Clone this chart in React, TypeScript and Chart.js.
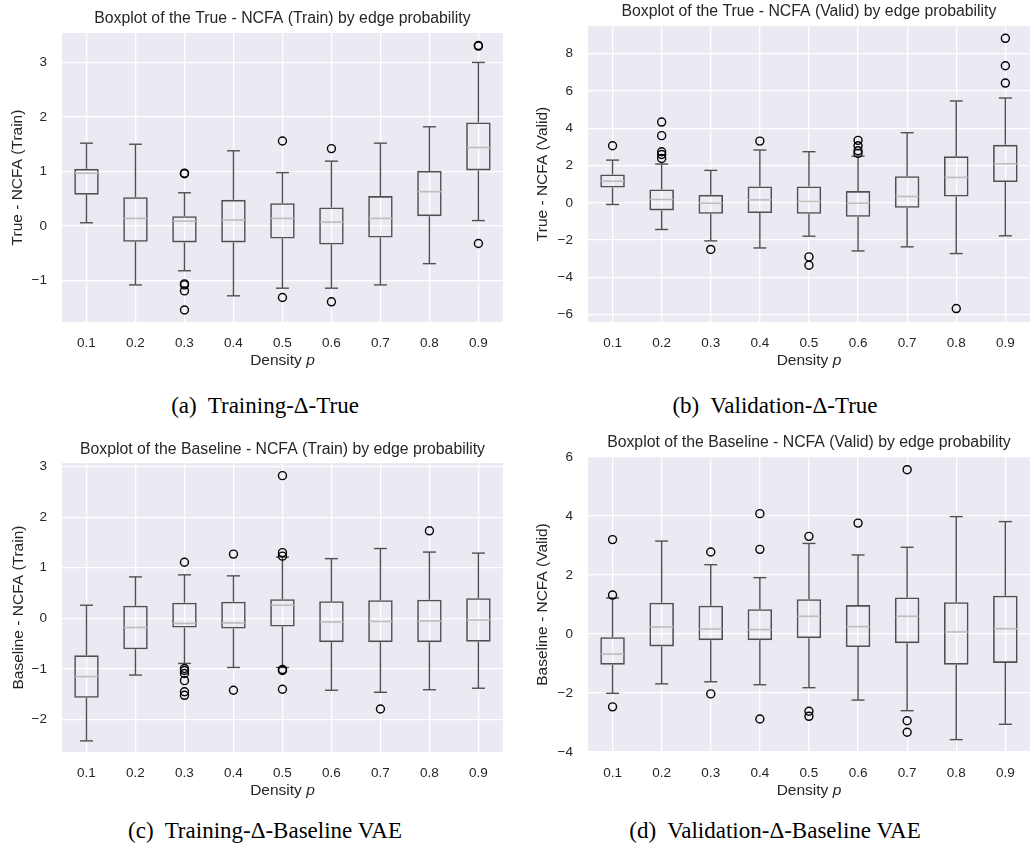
import React, { useEffect, useRef } from "react";
import { Chart, registerables } from "chart.js";

Chart.register(...registerables);

// ---------- data ----------
const categories = ["0.1", "0.2", "0.3", "0.4", "0.5", "0.6", "0.7", "0.8", "0.9"];

// (a) True - NCFA (Train)
const aLow = [0.06, -1.08, -0.82, -1.28, -1.14, -1.14, -1.08, -0.69, 0.1];
const aQ1 = [0.575, -0.29, -0.3, -0.3, -0.23, -0.34, -0.21, 0.18, 1.02];
const aMed = [0.97, 0.14, 0.09, 0.11, 0.14, 0.07, 0.14, 0.63, 1.44];
const aQ3 = [1.05, 0.53, 0.18, 0.48, 0.42, 0.34, 0.55, 1.01, 1.9];
const aHigh = [1.52, 1.5, 0.61, 1.38, 0.98, 1.19, 1.52, 1.82, 3.0];
const aOutCat = [3, 3, 3, 3, 3, 3, 5, 5, 6, 6, 9, 9, 9];
const aOutVal = [0.97, 0.96, -1.06, -1.08, -1.19, -1.54, 1.56, -1.31, 1.42, -1.39, 3.31, 3.3, -0.32];
const aTicks = [-1, 0, 1, 2, 3];

// (b) True - NCFA (Valid)
const bLow = [-0.09, -1.43, -2.04, -2.42, -1.79, -2.58, -2.36, -2.72, -1.77];
const bQ1 = [0.82, -0.41, -0.59, -0.55, -0.59, -0.75, -0.27, 0.34, 1.11];
const bMed = [1.16, 0.18, -0.02, 0.16, 0.07, -0.02, 0.34, 1.36, 2.09];
const bQ3 = [1.52, 0.72, 0.43, 0.88, 0.88, 0.63, 1.43, 2.49, 3.11];
const bHigh = [2.29, 2.08, 1.74, 2.83, 2.74, 2.5, 3.76, 5.46, 5.62];
const bOutCat = [1, 2, 2, 2, 2, 2, 3, 4, 5, 5, 6, 6, 6, 6, 8, 9, 9, 9];
const bOutVal = [3.06, 4.33, 3.6, 2.74, 2.59, 2.38, -2.5, 3.31, -2.9, -3.35, 3.35, 3.06, 2.79, 2.65, -5.67, 8.82, 7.35, 6.42];
const bTicks = [-6, -4, -2, 0, 2, 4, 6, 8];

// (c) Baseline - NCFA (Train)
const cLow = [-2.42, -1.12, -0.89, -0.97, -0.97, -1.42, -1.46, -1.41, -1.38];
const cQ1 = [-1.57, -0.61, -0.18, -0.2, -0.16, -0.47, -0.47, -0.47, -0.46];
const cMed = [-1.15, -0.18, -0.1, -0.09, 0.26, -0.07, -0.06, -0.05, -0.03];
const cQ3 = [-0.73, 0.25, 0.31, 0.33, 0.38, 0.34, 0.36, 0.37, 0.4];
const cHigh = [0.26, 0.82, 0.86, 0.84, 1.21, 1.18, 1.38, 1.31, 1.29];
const cOutCat = [3, 3, 3, 3, 3, 3, 3, 4, 4, 5, 5, 5, 5, 5, 5, 7, 8];
const cOutVal = [1.11, -0.99, -1.03, -1.09, -1.23, -1.45, -1.52, 1.27, -1.42, 2.82, 1.3, 1.23, -1.01, -1.03, -1.4, -1.79, 1.73];
const cTicks = [-2, -1, 0, 1, 2, 3];

// (d) Baseline - NCFA (Valid)
const dLow = [-2.01, -1.69, -1.62, -1.72, -1.82, -2.24, -2.6, -3.58, -3.06];
const dQ1 = [-1.04, -0.42, -0.21, -0.21, -0.14, -0.44, -0.31, -1.04, -0.98];
const dMed = [-0.68, 0.24, 0.17, 0.15, 0.6, 0.25, 0.6, 0.07, 0.18];
const dQ3 = [-0.11, 1.06, 0.96, 0.84, 1.18, 0.98, 1.24, 1.08, 1.3];
const dHigh = [1.22, 3.15, 2.35, 1.91, 3.07, 2.68, 2.94, 3.98, 3.81];
const dOutCat = [1, 1, 1, 3, 3, 4, 4, 4, 5, 5, 5, 6, 7, 7, 7];
const dOutVal = [3.2, 1.32, -2.47, 2.78, -2.03, 4.08, 2.87, -2.88, 3.31, -2.62, -2.79, 3.76, 5.57, -2.94, -3.33];
const dTicks = [-4, -2, 0, 2, 4, 6];

// ---------- styling ----------
const SANS = '"Liberation Sans", Arial, Helvetica, sans-serif';
const SERIF = '"Liberation Serif", "Times New Roman", Times, serif';
const TEXT = "#262626";
const BG = "#EAEAF2";
const BOX = "#505050";
const MEDIAN = "#BDBDBD";
const TITLE_SIZE = 15.8;
const LABEL_SIZE = 15.5;
const TICK_SIZE = 13.5;

Chart.defaults.font.family = SANS;

type Panel = {
  title: string;
  yTitle: string;
  low: number[];
  q1: number[];
  med: number[];
  q3: number[];
  high: number[];
  outCat: number[];
  outVal: number[];
  ticks: number[];
  yMin: number;
  yMax: number;
  left: number;
  top: number;
  width: number;
  height: number;
  areaLeft: number;
  areaTop: number;
  areaRight: number;
  areaBottom: number;
  titleCenter: number;
  yTitleCenter: number;
  caption: string;
  captionX: number;
  captionY: number;
};

const panels: Panel[] = [
  {
    title: "Boxplot of the True - NCFA (Train) by edge probability",
    yTitle: "True - NCFA (Train)",
    low: aLow, q1: aQ1, med: aMed, q3: aQ3, high: aHigh, outCat: aOutCat, outVal: aOutVal,
    ticks: aTicks, yMin: -1.76, yMax: 3.54,
    left: 0, top: 0, width: 516, height: 380,
    areaLeft: 62, areaTop: 33, areaRight: 509, areaBottom: 322,
    titleCenter: 18.5, yTitleCenter: 18,
    caption: "(a)  Training-\u0394-True", captionX: 265, captionY: 406,
  },
  {
    title: "Boxplot of the True - NCFA (Valid) by edge probability",
    yTitle: "True - NCFA (Valid)",
    low: bLow, q1: bQ1, med: bMed, q3: bQ3, high: bHigh, outCat: bOutCat, outVal: bOutVal,
    ticks: bTicks, yMin: -6.39, yMax: 9.48,
    left: 516, top: 0, width: 527, height: 380,
    areaLeft: 72, areaTop: 26, areaRight: 527, areaBottom: 322,
    titleCenter: 12, yTitleCenter: 26.5,
    caption: "(b)  Validation-\u0394-True", captionX: 775, captionY: 406,
  },
  {
    title: "Boxplot of the Baseline - NCFA (Train) by edge probability",
    yTitle: "Baseline - NCFA (Train)",
    low: cLow, q1: cQ1, med: cMed, q3: cQ3, high: cHigh, outCat: cOutCat, outVal: cOutVal,
    ticks: cTicks, yMin: -2.64, yMax: 3.07,
    left: 0, top: 430, width: 516, height: 380,
    areaLeft: 62, areaTop: 33, areaRight: 509, areaBottom: 322,
    titleCenter: 20, yTitleCenter: 18.5,
    caption: "(c)  Training-\u0394-Baseline VAE", captionX: 265, captionY: 831,
  },
  {
    title: "Boxplot of the Baseline - NCFA (Valid) by edge probability",
    yTitle: "Baseline - NCFA (Valid)",
    low: dLow, q1: dQ1, med: dMed, q3: dQ3, high: dHigh, outCat: dOutCat, outVal: dOutVal,
    ticks: dTicks, yMin: -4, yMax: 6,
    left: 516, top: 430, width: 527, height: 380,
    areaLeft: 72, areaTop: 27, areaRight: 527, areaBottom: 322,
    titleCenter: 12.5, yTitleCenter: 26.5,
    caption: "(d)  Validation-\u0394-Baseline VAE", captionX: 775, captionY: 831,
  },
];

const fmt = (v: number) => (v < 0 ? "\u2212" + Math.abs(v) : String(v));

const bgPlugin = {
  id: "panelBackground",
  beforeDraw(chart: any) {
    const { ctx, chartArea } = chart;
    ctx.save();
    ctx.fillStyle = BG;
    ctx.fillRect(chartArea.left, chartArea.top, chartArea.right - chartArea.left, chartArea.bottom - chartArea.top);
    ctx.restore();
  },
};

const xTitlePlugin = {
  id: "densityTitle",
  afterDraw(chart: any) {
    const { ctx, chartArea } = chart;
    const cx = (chartArea.left + chartArea.right) / 2;
    const y = chartArea.bottom + 38.5;
    const f1 = `${LABEL_SIZE}px ${SANS}`;
    const f2 = `italic ${LABEL_SIZE}px ${SANS}`;
    ctx.save();
    ctx.fillStyle = TEXT;
    ctx.textBaseline = "middle";
    ctx.textAlign = "left";
    ctx.font = f1;
    const w1 = ctx.measureText("Density ").width;
    ctx.font = f2;
    const w2 = ctx.measureText("p").width;
    const x0 = cx - (w1 + w2) / 2;
    ctx.font = f1;
    ctx.fillText("Density ", x0, y);
    ctx.font = f2;
    ctx.fillText("p", x0 + w1, y);
    ctx.restore();
  },
};

function makeConfig(p: Panel): any {
  const lh = TITLE_SIZE * 1.2;
  const llh = LABEL_SIZE * 1.2;
  const boxes = categories.map((_, i) => ({ x: i + 1, y: [p.q1[i], p.q3[i]] }));
  const whiskers: any[] = [];
  categories.forEach((_, i) => {
    whiskers.push({ x: i + 1, y: p.low[i] });
    whiskers.push({ x: i + 1, y: p.q1[i] });
    whiskers.push({ x: i + 1, y: null });
    whiskers.push({ x: i + 1, y: p.q3[i] });
    whiskers.push({ x: i + 1, y: p.high[i] });
    whiskers.push({ x: i + 1, y: null });
  });
  const caps: any[] = [];
  categories.forEach((_, i) => {
    caps.push({ x: i + 1, y: p.low[i] });
    caps.push({ x: i + 1, y: p.high[i] });
  });
  const medians = categories.map((_, i) => ({ x: i + 1, y: p.med[i] }));
  const outliers = p.outCat.map((c, i) => ({ x: c, y: p.outVal[i] }));
  const gridOpts = { color: "#FFFFFF", lineWidth: 1.3, drawTicks: false, offset: false };

  return {
    type: "bar",
    data: {
      datasets: [
        {
          type: "scatter",
          data: outliers,
          pointStyle: "circle",
          pointRadius: 4,
          borderWidth: 1.4,
          borderColor: "#000000",
          backgroundColor: "rgba(0,0,0,0)",
          order: 0,
        },
        {
          type: "scatter",
          data: medians,
          pointStyle: "line",
          pointRadius: 11.5,
          borderWidth: 1.6,
          borderColor: MEDIAN,
          order: 1,
        },
        {
          type: "scatter",
          data: caps,
          pointStyle: "line",
          pointRadius: 6.5,
          borderWidth: 1.4,
          borderColor: BOX,
          order: 2,
        },
        {
          type: "line",
          data: whiskers,
          pointRadius: 0,
          spanGaps: false,
          borderWidth: 1.4,
          borderColor: BOX,
          fill: false,
          order: 3,
        },
        {
          type: "bar",
          data: boxes,
          backgroundColor: "rgba(0,0,0,0)",
          borderColor: BOX,
          borderWidth: 1.6,
          borderSkipped: false,
          barPercentage: 0.5,
          categoryPercentage: 1,
          grouped: false,
          order: 4,
        },
      ],
    },
    options: {
      responsive: false,
      animation: false,
      events: [],
      layout: { padding: { left: 0, top: 0, right: p.width - p.areaRight, bottom: 0 } },
      plugins: {
        legend: { display: false },
        tooltip: { enabled: false },
        title: {
          display: true,
          text: p.title,
          color: TEXT,
          fullSize: false,
          font: { family: SANS, size: TITLE_SIZE, weight: "normal", lineHeight: 1.2 },
          padding: { top: p.titleCenter - lh / 2, bottom: p.areaTop - p.titleCenter - lh / 2 },
        },
      },
      scales: {
        x: {
          type: "linear",
          min: 0.5,
          max: 9.5,
          offset: false,
          afterBuildTicks: (s: any) => {
            s.ticks = categories.map((_, i) => ({ value: i + 1 }));
          },
          afterFit: (s: any) => {
            s.height = p.height - p.areaBottom;
          },
          ticks: {
            callback: (_v: any, i: number) => categories[i],
            color: TEXT,
            font: { family: SANS, size: TICK_SIZE },
            padding: 13,
            maxRotation: 0,
            autoSkip: false,
          },
          grid: gridOpts,
          border: { display: false },
        },
        y: {
          type: "linear",
          min: p.yMin,
          max: p.yMax,
          afterBuildTicks: (s: any) => {
            s.ticks = p.ticks.map((v) => ({ value: v }));
          },
          afterFit: (s: any) => {
            s.width = p.areaLeft;
          },
          ticks: {
            callback: (v: any) => fmt(Number(v)),
            color: TEXT,
            font: { family: SANS, size: TICK_SIZE },
            padding: 15,
          },
          grid: gridOpts,
          border: { display: false },
          title: {
            display: true,
            text: p.yTitle,
            color: TEXT,
            font: { family: SANS, size: LABEL_SIZE, lineHeight: 1.2 },
            padding: { top: p.yTitleCenter - llh / 2, bottom: 0 },
          },
        },
      },
    },
    plugins: [bgPlugin, xTitlePlugin],
  };
}

function BoxPanel({ p }: { p: Panel }) {
  const ref = useRef<HTMLCanvasElement | null>(null);
  useEffect(() => {
    if (!ref.current) return;
    const chart = new Chart(ref.current, makeConfig(p));
    return () => chart.destroy();
  }, [p]);
  return (
    <canvas
      ref={ref}
      width={p.width}
      height={p.height}
      style={{ position: "absolute", left: p.left, top: p.top, width: p.width, height: p.height }}
    />
  );
}

export default function App() {
  return (
    <div
      style={{
        position: "absolute",
        left: 0,
        top: 0,
        width: 1036,
        height: 854,
        overflow: "hidden",
        background: "#FFFFFF",
      }}
    >
      {panels.map((p, i) => (
        <BoxPanel key={i} p={p} />
      ))}
      {panels.map((p, i) => (
        <div
          key={"cap" + i}
          style={{
            position: "absolute",
            left: p.captionX - 250,
            width: 500,
            top: p.captionY - 15,
            height: 30,
            lineHeight: "30px",
            textAlign: "center",
            whiteSpace: "pre",
            fontFamily: SERIF,
            fontSize: 23,
            color: "#000000",
          }}
        >
          {p.caption}
        </div>
      ))}
    </div>
  );
}
